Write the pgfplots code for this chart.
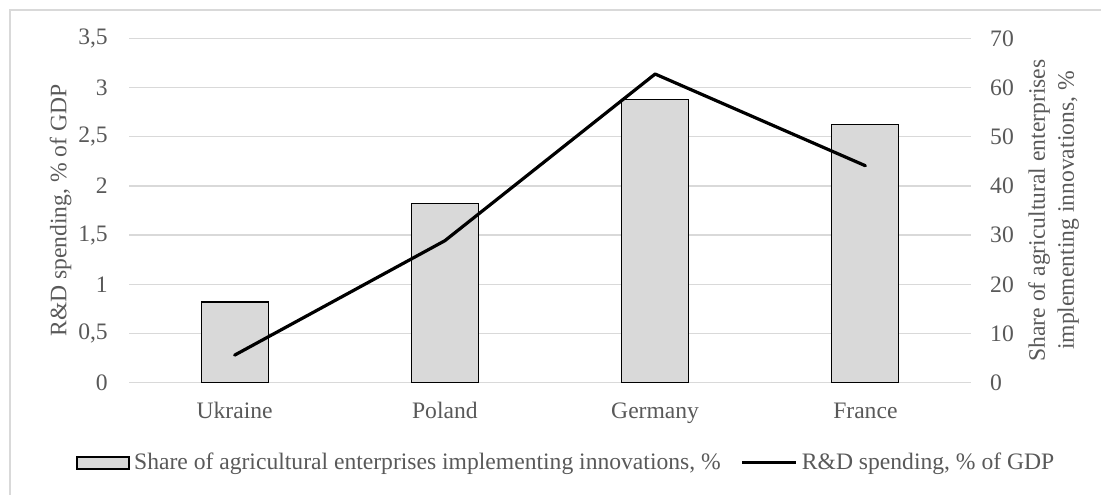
\documentclass[border=0pt]{standalone}
\usepackage{fontspec}
\setmainfont{Liberation Serif}
\usepackage{pgfplots}
\pgfplotsset{compat=1.18}
\definecolor{txt}{HTML}{595959}
\definecolor{gridc}{HTML}{D9D9D9}
\definecolor{barfill}{HTML}{D9D9D9}
\pgfplotsset{
  common/.style={
    scale only axis, width=841pt, height=344.4pt,
    xmin=-0.5, xmax=3.5,
    axis line style={draw=none},
    major tick length=0pt,
    /pgf/number format/use comma,
    /pgf/number format/assume math mode=true,
    tick label style={text=txt},
    label style={text=txt},
  }
}
\begin{document}
\fontsize{23.6}{29}\selectfont
\begin{tikzpicture}
\useasboundingbox (-129.5pt,-112.3pt) rectangle (971.5pt,382.7pt);
\draw[gridc, line width=1.3pt] (-119.5pt,-140pt) rectangle (1000pt,372.7pt);
\begin{axis}[common,
  ymin=0, ymax=70, ytick={0,10,20,30,40,50,60,70},
  ymajorgrids, grid style={gridc, line width=1.3pt},
  yticklabel pos=right,
  yticklabel style={anchor=west, inner sep=0pt, xshift=19.5pt},
  xtick={0,1,2,3}, xticklabels={Ukraine,Poland,Germany,France},
  xticklabel style={anchor=north, inner sep=0pt, yshift=-19.2pt, text height=16.1pt, text depth=5pt},
  ylabel={Share of agricultural enterprises\\implementing innovations, \%},
  ylabel style={at={(axis description cs:1.0684,0.5)}, anchor=north, inner sep=0pt, align=center},
]
\addplot[ybar, bar width=67pt, fill=barfill, draw=black, line width=1.1pt] coordinates {(0,16.4) (1,36.5) (2,57.5) (3,52.5)};
\end{axis}
\begin{axis}[common,
  ymin=0, ymax=3.5, ytick={0,0.5,1,1.5,2,2.5,3,3.5},
  yticklabel style={anchor=east, inner sep=0pt, xshift=-21.5pt},
  xtick=\empty,
  ylabel={R\&D spending, \% of GDP},
  ylabel style={at={(axis description cs:-0.0687,0.5)}, anchor=south, inner sep=0pt},
  legend columns=2,
  legend cell align=left,
  legend style={at={(axis description cs:-0.0636,-0.2326)}, anchor=west, draw=none, fill=none, inner sep=0pt, column sep=0pt, nodes={inner sep=0pt, text=txt}},
]
\addlegendimage{legend image code/.code={\draw[fill=barfill, draw=black, line width=1.5pt] (0pt,-6pt) rectangle (52pt,6pt); \path (57pt,0pt);}}
\addlegendentry{Share of agricultural enterprises implementing innovations, \%}
\addplot[black, line width=3.2pt, line cap=round, line join=round, legend image code/.code={\path (-20pt,0pt); \draw[black, line width=3.2pt, line cap=butt] (0pt,0pt) -- (54pt,0pt); \path (58pt,0pt);}] coordinates {(0,0.28) (1,1.443) (2,3.137) (3,2.205)};
\addlegendentry{R\&D spending, \% of GDP}
\end{axis}
\end{tikzpicture}
\end{document}
